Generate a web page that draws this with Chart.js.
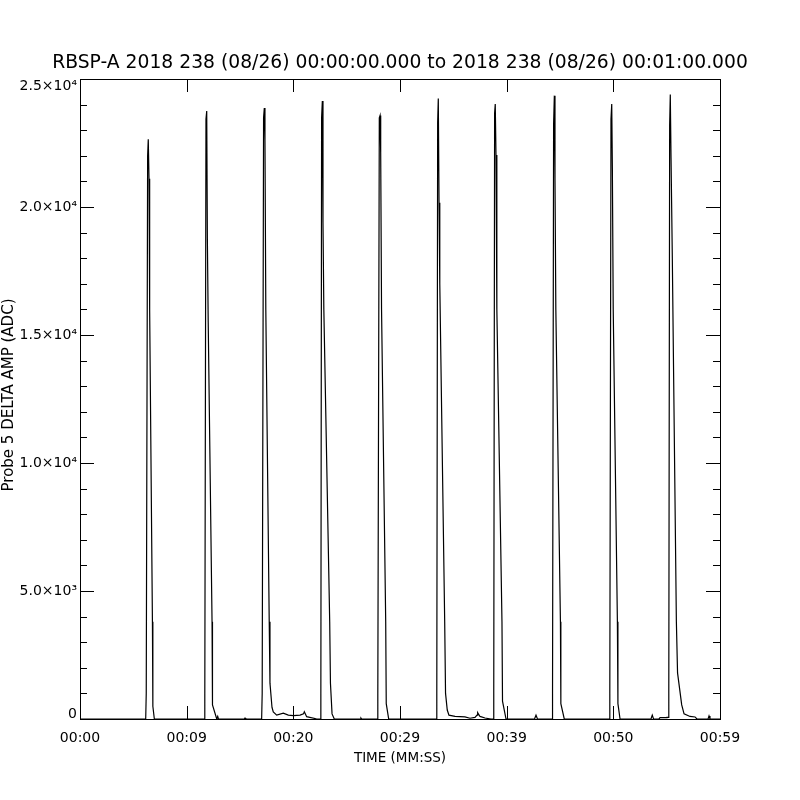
<!DOCTYPE html>
<html>
<head>
<meta charset="utf-8">
<script src="https://cdn.jsdelivr.net/npm/chart.js@4.4.1/dist/chart.umd.min.js"></script>
<style>
  html, body { margin: 0; padding: 0; background: #fff; }
  canvas { display: block; }
</style>
</head>
<body>
<canvas id="grafico" width="800" height="800"></canvas>
<script>
const titulo = "RBSP-A 2018 238 (08/26) 00:00:00.000 to 2018 238 (08/26) 00:01:00.000";
const tituloX = "TIME (MM:SS)";
const tituloY = "Probe 5 DELTA AMP (ADC)";

// ejes
const xTicks = [0, 10, 20, 30, 40, 50, 60];
const xTickLabels = ["00:00", "00:09", "00:20", "00:29", "00:39", "00:50", "00:59"];
const yTicks = [0, 5000, 10000, 15000, 20000, 25000];
const yTickLabels = ["0", "5.0×10³", "1.0×10⁴", "1.5×10⁴", "2.0×10⁴", "2.5×10⁴"];
const yMinorTicks = [1000, 2000, 3000, 4000, 6000, 7000, 8000, 9000, 11000, 12000, 13000, 14000,
  16000, 17000, 18000, 19000, 21000, 22000, 23000, 24000];

// tiempo (s) y amplitud (ADC)
const segundos = [
  0,
  6.16, 6.21, 6.34, 6.40, 6.47, 6.53, 6.79, 6.83, 6.97,
  11.65, 11.70, 11.81, 11.88, 11.94, 12.02, 12.38, 12.42, 12.82, 12.91, 12.98,
  15.40, 15.47, 15.54,
  17.03, 17.08, 17.21, 17.28, 17.34, 17.42, 17.74, 17.81, 18.00,
  18.12, 18.44, 19.06, 19.53, 20.00, 20.63, 20.95, 21.03, 21.25, 22.03, 22.19,
  22.53, 22.58, 22.65, 22.72, 22.78, 22.86, 23.41, 23.48, 23.63, 23.84,
  26.27, 26.34, 26.41,
  27.87, 27.92, 28.06, 28.13, 28.19, 28.27, 28.66, 28.71, 28.94,
  33.40, 33.45, 33.53, 33.59, 33.66, 33.73, 34.19, 34.27,
  34.43, 34.59, 35.16, 36.09, 36.56, 37.03, 37.22, 37.28, 37.50, 37.97, 38.53,
  38.75, 38.79, 38.87, 38.93, 39.00, 39.08, 39.56, 39.61, 39.94,
  42.61, 42.75, 42.89,
  44.25, 44.30, 44.40, 44.47, 44.53, 44.61, 45.04, 45.08, 45.40,
  49.62, 49.67, 49.78, 49.85, 49.91, 49.99, 50.38, 50.43, 50.63,
  53.53, 53.65, 53.77,
  54.28, 54.38, 54.94, 55.03,
  55.15, 55.20, 55.28, 55.34, 55.41, 55.53, 55.91, 56.02,
  56.41, 56.63, 57.19, 57.66, 57.84,
  58.88, 58.97, 59.06,
  60
];
const amplitud = [
  0,
  0, 1000, 21990, 22650, 21100, 16000, 3800, 500, 0,
  0, 1000, 23440, 23750, 18800, 15500, 3800, 550, 0, 100, 0,
  0, 40, 0,
  0, 1000, 23500, 23870, 22580, 16000, 3800, 1400, 450,
  280, 150, 230, 150, 130, 150, 200, 280, 90, 20, 0,
  0, 1000, 23500, 24140, 19400, 16000, 3800, 1400, 200, 0,
  0, 40, 0,
  0, 1000, 23480, 23570, 22120, 16000, 3800, 600, 0,
  0, 1000, 23300, 24240, 20170, 17000, 3800, 1000,
  350, 150, 100, 80, 30, 60, 150, 250, 100, 40, 0,
  0, 1000, 23670, 24020, 22030, 16000, 3800, 700, 0,
  0, 150, 0,
  0, 1000, 23240, 24350, 21090, 16000, 3800, 600, 0,
  0, 1000, 23440, 24020, 21450, 16000, 3800, 600, 0,
  0, 150, 0,
  0, 50, 50, 60,
  60, 1000, 23200, 24390, 21910, 18000, 3800, 1800,
  550, 200, 100, 80, 0,
  0, 120, 0,
  0
];

const puntos = segundos.map((t, i) => ({ x: t, y: amplitud[i] }));

const fuente = "DejaVu Sans";

const marcoIDL = {
  id: "marcoIDL",
  afterDraw(chart) {
    const ctx = chart.ctx;
    const area = chart.chartArea;
    const sx = chart.scales.x;
    const sy = chart.scales.y;

    ctx.save();
    ctx.strokeStyle = "#000";
    ctx.lineWidth = 1;
    ctx.strokeRect(area.left + 0.5, area.top + 0.5, area.right - area.left, area.bottom - area.top);

    ctx.beginPath();
    xTicks.forEach((v) => {
      const px = Math.round(sx.getPixelForValue(v)) + 0.5;
      ctx.moveTo(px, area.bottom);
      ctx.lineTo(px, area.bottom - 13);
      ctx.moveTo(px, area.top);
      ctx.lineTo(px, area.top + 13);
    });
    yTicks.forEach((v) => {
      const py = Math.round(sy.getPixelForValue(v)) + 0.5;
      ctx.moveTo(area.left, py);
      ctx.lineTo(area.left + 14, py);
      ctx.moveTo(area.right, py);
      ctx.lineTo(area.right - 14, py);
    });
    yMinorTicks.forEach((v) => {
      const py = Math.round(sy.getPixelForValue(v)) + 0.5;
      ctx.moveTo(area.left, py);
      ctx.lineTo(area.left + 7, py);
      ctx.moveTo(area.right, py);
      ctx.lineTo(area.right - 7, py);
    });
    ctx.stroke();

    ctx.fillStyle = "#000";
    ctx.font = "14px " + fuente;
    ctx.textBaseline = "middle";

    ctx.textAlign = "center";
    xTicks.forEach((v, i) => {
      ctx.fillText(xTickLabels[i], sx.getPixelForValue(v), area.bottom + 19);
    });

    ctx.textAlign = "right";
    yTicks.forEach((v, i) => {
      let py = sy.getPixelForValue(v);
      py = Math.min(Math.max(py, area.top + 7), area.bottom - 5);
      ctx.fillText(yTickLabels[i], area.left - 3, py);
    });

    ctx.textAlign = "center";
    ctx.font = "13.5px " + fuente;
    ctx.fillText(tituloX, (area.left + area.right) / 2, area.bottom + 39);

    ctx.save();
    ctx.font = "15px " + fuente;
    ctx.translate(9, 395);
    ctx.rotate(-Math.PI / 2);
    ctx.fillText(tituloY, 0, 0);
    ctx.restore();

    ctx.font = "18px " + fuente;
    const ancho = ctx.measureText(titulo).width;
    const tam = 18 * 696 / ancho;
    ctx.font = tam.toFixed(2) + "px " + fuente;
    ctx.fillText(titulo, 400, 63);

    ctx.restore();
  }
};

new Chart(document.getElementById("grafico"), {
  type: "line",
  data: {
    datasets: [{
      data: puntos,
      borderColor: "#000",
      borderWidth: 1.2,
      pointRadius: 0,
      tension: 0,
      fill: false
    }]
  },
  options: {
    responsive: false,
    animation: false,
    devicePixelRatio: 1,
    layout: {
      padding: { left: 80, top: 79, right: 80, bottom: 81 }
    },
    plugins: {
      legend: { display: false },
      tooltip: { enabled: false }
    },
    scales: {
      x: { type: "linear", min: 0, max: 60, display: false },
      y: { type: "linear", min: 0, max: 25000, display: false }
    }
  },
  plugins: [marcoIDL]
});
</script>
</body>
</html>
